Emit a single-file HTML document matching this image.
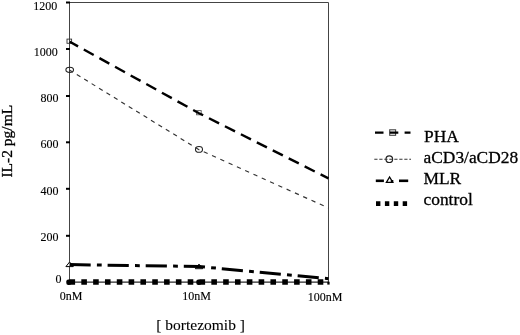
<!DOCTYPE html>
<html>
<head>
<meta charset="utf-8">
<style>
html,body{margin:0;padding:0;background:#fff;}
body{width:520px;height:335px;overflow:hidden;}
svg{display:block;will-change:transform;}
text{font-family:"Liberation Serif",serif;fill:#000;stroke:#000;stroke-width:0.3px;}
.t{font-size:12px;stroke-width:0.12px;}
.lg{font-size:17.4px;}
</style>
</head>
<body>
<svg width="520" height="335" viewBox="0 0 520 335">
<defs>
<clipPath id="pa"><rect x="60" y="0" width="269" height="290"/></clipPath>
</defs>
<!-- frame -->
<path d="M69.5 2.5 H328.5 V282 M69.5 2.5 V282" fill="none" stroke="#444" stroke-width="1"/>
<line x1="69.5" y1="282.1" x2="328.5" y2="282.1" stroke="#2a2a2a" stroke-width="1.3"/>
<rect x="327.3" y="281.7" width="2.3" height="2.9" fill="#000"/>
<!-- y ticks -->
<g stroke="#000" stroke-width="2">
<line x1="66" y1="2.5" x2="70" y2="2.5"/>
<line x1="66" y1="49" x2="70" y2="49"/>
<line x1="66" y1="96" x2="70" y2="96"/>
<line x1="66" y1="142.3" x2="70" y2="142.3"/>
<line x1="66" y1="188.8" x2="70" y2="188.8"/>
<line x1="66" y1="235.8" x2="70" y2="235.8"/>
</g>
<!-- y labels -->
<g class="t" text-anchor="end">
<text x="57.2" y="9.6" class="t">1200</text>
<text x="57.8" y="55.8" class="t">1000</text>
<text x="58.6" y="101.5" class="t">800</text>
<text x="58.6" y="148" class="t">600</text>
<text x="58.6" y="194.5" class="t">400</text>
<text x="58.6" y="240.8" class="t">200</text>
<text x="61.5" y="282.6" class="t">0</text>
</g>
<!-- x labels -->
<g text-anchor="middle">
<text x="71" y="300.4" class="t">0nM</text>
<text x="196.6" y="300.4" class="t">10nM</text>
<text x="325.2" y="300.6" class="t">100nM</text>
</g>
<text x="200.6" y="330.2" text-anchor="middle" style="font-size:15.5px;stroke-width:0.1px">[ bortezomib ]</text>
<text transform="translate(11.7,141.2) rotate(-90)" text-anchor="middle" style="font-size:15.5px">IL-2 pg/mL</text>

<g clip-path="url(#pa)">
<!-- markers (under lines) -->
<path d="M69.6 262 L73.3 266.6 L65.9 266.6 Z" fill="#fff" stroke="#000" stroke-width="1"/>
<path d="M199 264.1 L202.7 268.7 L195.3 268.7 Z" fill="#fff" stroke="#000" stroke-width="1"/>
<ellipse cx="69.7" cy="69.8" rx="3.8" ry="2.6" fill="none" stroke="#222" stroke-width="1.1"/>
<ellipse cx="199" cy="149.4" rx="3.5" ry="2.9" fill="none" stroke="#222" stroke-width="1.1"/>
<rect x="67" y="39.1" width="4.6" height="4.2" fill="none" stroke="#333" stroke-width="0.9"/>
<rect x="196.6" y="110.6" width="4.6" height="4.2" fill="none" stroke="#555" stroke-width="0.9"/>
<!-- control -->
<polyline points="69.5,282 199,282 328.5,282" fill="none" stroke="#000" stroke-width="5.4" stroke-dasharray="5.6 6.22"/>
<rect x="66.3" y="279.5" width="5" height="5.4" rx="2" fill="#000"/>
<rect x="196.3" y="279.5" width="5" height="5.4" rx="2" fill="#000"/>
<!-- MLR -->
<polyline points="69.5,264.6 199,266.5 328.5,278.7" fill="none" stroke="#000" stroke-width="3" stroke-dasharray="21.2 6.2 4.8 5.9"/>
<!-- aCD3 -->
<line x1="69.8" y1="70.2" x2="199" y2="149.7" stroke="#333" stroke-width="1.15" stroke-dasharray="4.3 4.41" stroke-dashoffset="0.5"/>
<line x1="199" y1="149.7" x2="328.5" y2="208" stroke="#333" stroke-width="1.15" stroke-dasharray="4.3 4.79" stroke-dashoffset="3.9"/>
<!-- PHA -->
<polyline points="69.8,41.8 199,113.2 328.5,178.4" fill="none" stroke="#000" stroke-width="2.4" stroke-dasharray="11.3 6.55" stroke-dashoffset="1.85"/>
</g>

<!-- legend -->
<g>
<rect x="389.7" y="129.8" width="5.9" height="5.5" fill="none" stroke="#444" stroke-width="1.1"/>
<line x1="375" y1="132.6" x2="410.5" y2="132.6" stroke="#000" stroke-width="2.3" stroke-dasharray="8.5 6.3"/>
<text x="424" y="141.7" class="lg">PHA</text>

<circle cx="389.3" cy="159.2" r="3.3" fill="none" stroke="#222" stroke-width="1.2"/>
<line x1="374.3" y1="159.2" x2="411" y2="159.2" stroke="#333" stroke-width="1.1" stroke-dasharray="3.2 1.8"/>
<text x="423.5" y="162.7" class="lg">aCD3/aCD28</text>

<path d="M389.6 177 L392.8 182.4 L386.4 182.4 Z" fill="#fff" stroke="#000" stroke-width="1.3" stroke-linejoin="miter"/>
<g stroke="#000" stroke-width="2.6">
<line x1="375.8" y1="180.8" x2="383.9" y2="180.8"/>
<line x1="390.8" y1="181.2" x2="393.3" y2="181.2" stroke-width="2.4"/>
<line x1="399" y1="180.8" x2="408.2" y2="180.8"/>
</g>
<text x="423.5" y="184.2" class="lg">MLR</text>

<line x1="376" y1="203.6" x2="407.5" y2="203.6" stroke="#000" stroke-width="4.6" stroke-dasharray="4.4 4.5"/>
<text x="423.5" y="205" class="lg">control</text>
</g>
</svg>
</body>
</html>
